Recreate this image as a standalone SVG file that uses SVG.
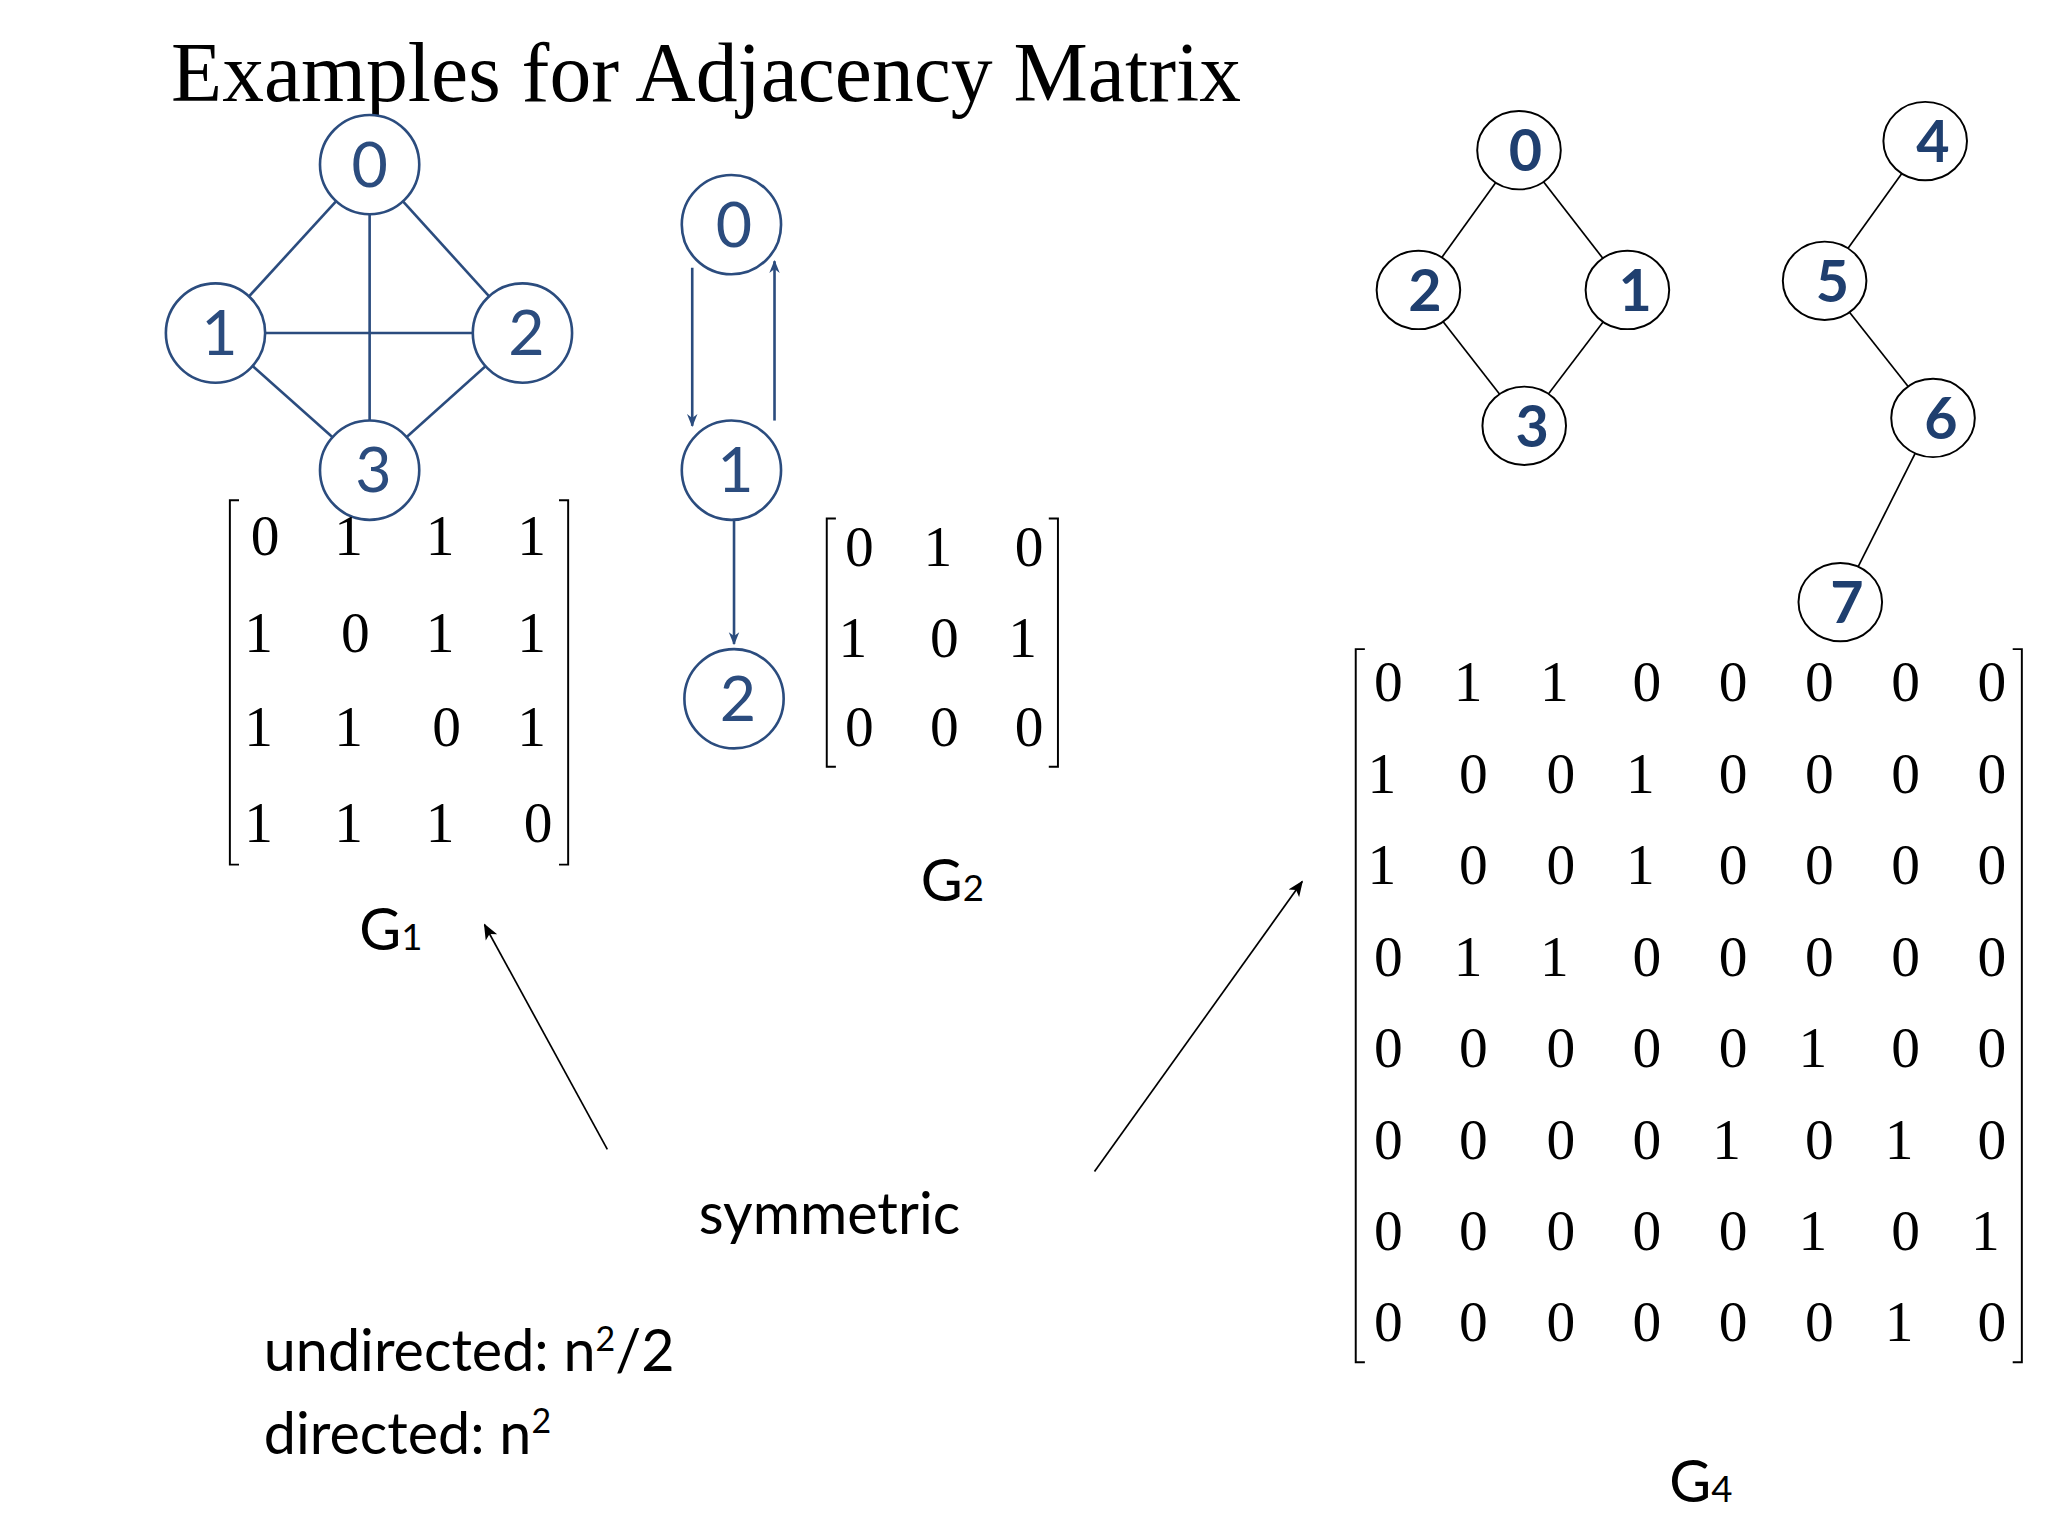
<svg xmlns="http://www.w3.org/2000/svg" width="2048" height="1536" viewBox="0 0 2048 1536">
<style>
.bn{fill:#fff;stroke:#2b4c7e;stroke-width:2}
.bt{font-family:Lato,"Open Sans",sans-serif;font-size:48px;fill:#2b4c7e;text-anchor:middle}
.kn{fill:#fff;stroke:#000;stroke-width:1.5}
.kt{font-family:Lato,"Open Sans",sans-serif;font-weight:bold;font-size:44px;fill:#1f3f6f;text-anchor:middle}
.m{font-family:"Liberation Serif",serif;font-size:44px;fill:#000;text-anchor:middle}
.l{font-family:Lato,"Open Sans",sans-serif;font-size:44px;fill:#000}
.be{stroke:#2b4c7e;stroke-width:2;fill:none}
.ke{stroke:#000;stroke-width:1.3;fill:none}
.br{stroke:#000;stroke-width:1.5;fill:none}
</style>
<defs>
<marker id="ab" markerWidth="10" markerHeight="10" refX="9" refY="5" orient="auto" markerUnits="userSpaceOnUse"><path d="M0,1 L10,5 L0,9 L3,5 Z" fill="#2b4c7e"/></marker>
<marker id="ak" markerWidth="12" markerHeight="12" refX="11" refY="6" orient="auto" markerUnits="userSpaceOnUse"><path d="M0,1 L12,6 L0,11 L3,6 Z" fill="#000"/></marker>
</defs>
<rect width="2048" height="1536" fill="#fff"/>
<g transform="scale(1.3061)">
<text x="131" y="77" font-family="Liberation Serif,serif" font-size="64" fill="#000">Examples for Adjacency Matrix</text>
<g id="connectors">
<line class="be" x1="283" y1="126" x2="165" y2="255"/>
<line class="be" x1="283" y1="126" x2="400" y2="255"/>
<line class="be" x1="283" y1="126" x2="283" y2="360"/>
<line class="be" x1="165" y1="255" x2="400" y2="255"/>
<line class="be" x1="165" y1="255" x2="283" y2="360"/>
<line class="be" x1="400" y1="255" x2="283" y2="360"/>
<line class="be" x1="530" y1="205" x2="530" y2="326" marker-end="url(#ab)"/>
<line class="be" x1="593" y1="322" x2="593" y2="200" marker-end="url(#ab)"/>
<line class="be" x1="562" y1="398" x2="562" y2="493" marker-end="url(#ab)"/>
<line class="ke" x1="1163" y1="115" x2="1086" y2="222"/>
<line class="ke" x1="1163" y1="115" x2="1246" y2="222"/>
<line class="ke" x1="1086" y1="222" x2="1167" y2="326"/>
<line class="ke" x1="1246" y1="222" x2="1167" y2="326"/>
<line class="ke" x1="1474" y1="108" x2="1397" y2="215"/>
<line class="ke" x1="1397" y1="215" x2="1480" y2="320"/>
<line class="ke" x1="1480" y1="320" x2="1409" y2="461"/>
<line class="ke" x1="465" y1="880" x2="371" y2="708" marker-end="url(#ak)"/>
<line class="ke" x1="838" y1="897" x2="997" y2="675" marker-end="url(#ak)"/>
</g>
<g id="g1n0"><circle class="bn" cx="283" cy="126" r="38"/><text class="bt" x="283" y="143">0</text></g>
<g id="g1n1"><circle class="bn" cx="165" cy="255" r="38"/><text class="bt" x="168" y="272">1</text></g>
<g id="g1n2"><circle class="bn" cx="400" cy="255" r="38"/><text class="bt" x="403" y="272">2</text></g>
<g id="g1n3"><circle class="bn" cx="283" cy="360" r="38"/><text class="bt" x="286" y="377">3</text></g>
<g id="g2n0"><circle class="bn" cx="560" cy="172" r="38"/><text class="bt" x="562" y="189">0</text></g>
<g id="g2n1"><circle class="bn" cx="560" cy="360" r="38"/><text class="bt" x="563" y="377">1</text></g>
<g id="g2n2"><circle class="bn" cx="562" cy="535" r="38"/><text class="bt" x="565" y="552">2</text></g>
<g id="g4n0"><ellipse class="kn" cx="1163" cy="115" rx="32" ry="30"/><text class="kt" x="1168" y="131">0</text></g>
<g id="g4n2"><ellipse class="kn" cx="1086" cy="222" rx="32" ry="30"/><text class="kt" x="1091" y="238">2</text></g>
<g id="g4n1"><ellipse class="kn" cx="1246" cy="222" rx="32" ry="30"/><text class="kt" x="1252" y="238">1</text></g>
<g id="g4n3"><ellipse class="kn" cx="1167" cy="326" rx="32" ry="30"/><text class="kt" x="1173" y="342">3</text></g>
<g id="g4n4"><ellipse class="kn" cx="1474" cy="108" rx="32" ry="30"/><text class="kt" x="1480" y="124">4</text></g>
<g id="g4n5"><ellipse class="kn" cx="1397" cy="215" rx="32" ry="30"/><text class="kt" x="1403" y="231">5</text></g>
<g id="g4n6"><ellipse class="kn" cx="1480" cy="320" rx="32" ry="30"/><text class="kt" x="1486" y="336">6</text></g>
<g id="g4n7"><ellipse class="kn" cx="1409" cy="461" rx="32" ry="30"/><text class="kt" x="1414" y="477">7</text></g>
<g id="m1">
<path class="br" d="M183,383 H176 V662 H183 M428,383 H435 V662 H428"/>
<text class="m" y="425"><tspan x="203">0</tspan><tspan x="267">1</tspan><tspan x="337">1</tspan><tspan x="407">1</tspan></text>
<text class="m" y="499"><tspan x="198">1</tspan><tspan x="272">0</tspan><tspan x="337">1</tspan><tspan x="407">1</tspan></text>
<text class="m" y="571"><tspan x="198">1</tspan><tspan x="267">1</tspan><tspan x="342">0</tspan><tspan x="407">1</tspan></text>
<text class="m" y="645"><tspan x="198">1</tspan><tspan x="267">1</tspan><tspan x="337">1</tspan><tspan x="412">0</tspan></text>
</g>
<g id="m2">
<path class="br" d="M640,397 H633 V587 H640 M803,397 H810 V587 H803"/>
<text class="m" y="433"><tspan x="658">0</tspan><tspan x="718">1</tspan><tspan x="788">0</tspan></text>
<text class="m" y="503"><tspan x="653">1</tspan><tspan x="723">0</tspan><tspan x="783">1</tspan></text>
<text class="m" y="571"><tspan x="658">0</tspan><tspan x="723">0</tspan><tspan x="788">0</tspan></text>
</g>
<g id="m4">
<path class="br" d="M1045,497 H1038 V1043 H1045 M1541,497 H1548 V1043 H1541"/>
<text class="m" y="537"><tspan x="1063">0</tspan><tspan x="1124">1</tspan><tspan x="1190">1</tspan><tspan x="1261">0</tspan><tspan x="1327">0</tspan><tspan x="1393">0</tspan><tspan x="1459">0</tspan><tspan x="1525">0</tspan></text>
<text class="m" y="607"><tspan x="1058">1</tspan><tspan x="1128">0</tspan><tspan x="1195">0</tspan><tspan x="1256">1</tspan><tspan x="1327">0</tspan><tspan x="1393">0</tspan><tspan x="1459">0</tspan><tspan x="1525">0</tspan></text>
<text class="m" y="677"><tspan x="1058">1</tspan><tspan x="1128">0</tspan><tspan x="1195">0</tspan><tspan x="1256">1</tspan><tspan x="1327">0</tspan><tspan x="1393">0</tspan><tspan x="1459">0</tspan><tspan x="1525">0</tspan></text>
<text class="m" y="747"><tspan x="1063">0</tspan><tspan x="1124">1</tspan><tspan x="1190">1</tspan><tspan x="1261">0</tspan><tspan x="1327">0</tspan><tspan x="1393">0</tspan><tspan x="1459">0</tspan><tspan x="1525">0</tspan></text>
<text class="m" y="817"><tspan x="1063">0</tspan><tspan x="1128">0</tspan><tspan x="1195">0</tspan><tspan x="1261">0</tspan><tspan x="1327">0</tspan><tspan x="1388">1</tspan><tspan x="1459">0</tspan><tspan x="1525">0</tspan></text>
<text class="m" y="887"><tspan x="1063">0</tspan><tspan x="1128">0</tspan><tspan x="1195">0</tspan><tspan x="1261">0</tspan><tspan x="1322">1</tspan><tspan x="1393">0</tspan><tspan x="1454">1</tspan><tspan x="1525">0</tspan></text>
<text class="m" y="957"><tspan x="1063">0</tspan><tspan x="1128">0</tspan><tspan x="1195">0</tspan><tspan x="1261">0</tspan><tspan x="1327">0</tspan><tspan x="1388">1</tspan><tspan x="1459">0</tspan><tspan x="1520">1</tspan></text>
<text class="m" y="1027"><tspan x="1063">0</tspan><tspan x="1128">0</tspan><tspan x="1195">0</tspan><tspan x="1261">0</tspan><tspan x="1327">0</tspan><tspan x="1393">0</tspan><tspan x="1454">1</tspan><tspan x="1525">0</tspan></text>
</g>
<text class="l" x="275" y="727">G<tspan font-size="28">1</tspan></text>
<text class="l" x="705" y="690">G<tspan font-size="28">2</tspan></text>
<text class="l" x="1278" y="1150">G<tspan font-size="28">4</tspan></text>
<text class="l" x="535" y="945">symmetric</text>
<text class="l" x="202" y="1050">undirected: n<tspan font-size="26" dy="-16">2</tspan><tspan dy="16">/2</tspan></text>
<text class="l" x="202" y="1113">directed: n<tspan font-size="26" dy="-16">2</tspan></text>
</g>
</svg>
